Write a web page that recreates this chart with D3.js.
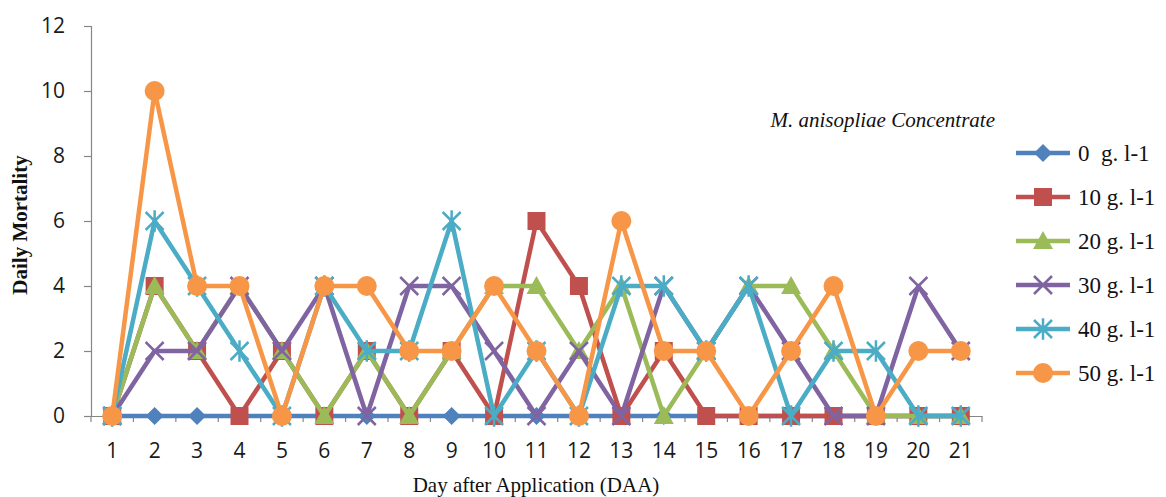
<!DOCTYPE html>
<html>
<head>
<meta charset="utf-8">
<script src="https://cdn.jsdelivr.net/npm/d3@7"></script>
<style>
  html, body { margin: 0; padding: 0; background: #ffffff; }
  svg { display: block; }
</style>
</head>
<body>
<script>
const days = ["1","2","3","4","5","6","7","8","9","10","11","12","13","14","15","16","17","18","19","20","21"];
const yTicks = [0, 2, 4, 6, 8, 10, 12];
const seriesNames = ["0  g. l-1", "10 g. l-1", "20 g. l-1", "30 g. l-1", "40 g. l-1", "50 g. l-1"];
const seriesColors = ["#4F81BD", "#C0504D", "#9BBB59", "#8064A2", "#4BACC6", "#F79646"];
const seriesMarkers = ["diamond", "square", "triangle", "x", "star", "circle"];
const s0  = [0,0,0,0,0,0,0,0,0,0,0,0,0,0,0,0,0,0,0,0,0];
const s10 = [0,4,2,0,2,0,2,0,2,0,6,4,0,2,0,0,0,0,0,0,0];
const s20 = [0,4,2,4,2,0,2,0,2,4,4,2,4,0,2,4,4,2,0,0,0];
const s30 = [0,2,2,4,2,4,0,4,4,2,0,2,0,4,2,4,2,0,0,4,2];
const s40 = [0,6,4,2,0,4,2,2,6,0,2,0,4,4,2,4,0,2,2,0,0];
const s50 = [0,10,4,4,0,4,4,2,2,4,2,0,6,2,2,0,2,4,0,2,2];
const seriesValues = [s0, s10, s20, s30, s40, s50];
const legendTitle = "M. anisopliae Concentrate";
const xTitle = "Day after Application (DAA)";
const yTitle = "Daily Mortality";

(function () {
const W = 1166, H = 497;
const pLeft = 91, pRight = 982, pTop = 26, pBottom = 416;
const axisColor = "#868686";
const sans = "'Open Sans', 'Noto Sans', sans-serif";
const serif = "'Liberation Serif', 'Times New Roman', serif";

const svg = d3.select("body").append("svg").attr("width", W).attr("height", H);

const x = d3.scaleBand().domain(days).range([pLeft, pRight]).padding(0);
const y = d3.scaleLinear().domain([0, 12]).range([pBottom, pTop]);

// Y axis
const yAxis = d3.axisLeft(y).tickValues(yTicks).tickSize(7).tickPadding(19).tickFormat(d3.format("d"));
const gy = svg.append("g").attr("transform", `translate(${pLeft},0)`).call(yAxis);
gy.select(".domain").attr("stroke", axisColor).attr("stroke-width", 1.2);
gy.selectAll(".tick line").attr("stroke", axisColor).attr("stroke-width", 1.2);
gy.selectAll(".tick text").attr("font-family", sans).attr("font-size", 21).attr("fill", "#1a1a1a");

// X axis
const xAxis = d3.axisBottom(x).tickSize(0).tickPadding(27);
const gx = svg.append("g").attr("transform", `translate(0,${pBottom})`).call(xAxis);
gx.select(".domain").attr("stroke", axisColor).attr("stroke-width", 1.2);
gx.selectAll(".tick text").attr("font-family", sans).attr("font-size", 21).attr("fill", "#1a1a1a");
// category boundary ticks
const bounds = days.map(d => x(d)).concat([x(days[days.length - 1]) + x.bandwidth()]);
svg.append("g").selectAll("line").data(bounds).join("line")
  .attr("x1", d => d).attr("x2", d => d)
  .attr("y1", pBottom).attr("y2", pBottom + 6)
  .attr("stroke", axisColor).attr("stroke-width", 1.2);

const cx = d => x(d) + x.bandwidth() / 2;

function drawMarker(g, type, color, px, py) {
  if (type === "diamond") {
    const r = 9;
    g.append("path").attr("d", `M${px},${py - r}L${px + r},${py}L${px},${py + r}L${px - r},${py}Z`).attr("fill", color);
  } else if (type === "square") {
    const s = 18;
    g.append("rect").attr("x", px - s / 2).attr("y", py - s / 2).attr("width", s).attr("height", s).attr("fill", color);
  } else if (type === "triangle") {
    const s = 10;
    g.append("path").attr("d", `M${px},${py - s}L${px + s},${py + s * 0.8}L${px - s},${py + s * 0.8}Z`).attr("fill", color);
  } else if (type === "circle") {
    g.append("circle").attr("cx", px).attr("cy", py).attr("r", 10).attr("fill", color);
  } else if (type === "x") {
    const r = 9;
    g.append("path").attr("d", `M${px - r},${py - r}L${px + r},${py + r}M${px - r},${py + r}L${px + r},${py - r}`)
      .attr("stroke", color).attr("stroke-width", 2.5).attr("fill", "none");
  } else if (type === "star") {
    const r = 9;
    g.append("path").attr("d", `M${px - r},${py - r}L${px + r},${py + r}M${px - r},${py + r}L${px + r},${py - r}M${px},${py - r * 1.2}L${px},${py + r * 1.2}`)
      .attr("stroke", color).attr("stroke-width", 2.5).attr("fill", "none");
  }
}

const line = d3.line().x((d, i) => cx(days[i])).y(d => y(d));

seriesValues.forEach((vals, si) => {
  const g = svg.append("g");
  g.append("path").datum(vals).attr("d", line).attr("fill", "none")
    .attr("stroke", seriesColors[si]).attr("stroke-width", 4.5).attr("stroke-linejoin", "round");
  vals.forEach((v, i) => drawMarker(g, seriesMarkers[si], seriesColors[si], cx(days[i]), y(v)));
});

// Legend
const legY0 = 153, legStep = 44;
const lg = svg.append("g");
seriesNames.forEach((name, i) => {
  const ly = legY0 + i * legStep;
  lg.append("line").attr("x1", 1016).attr("x2", 1070).attr("y1", ly).attr("y2", ly)
    .attr("stroke", seriesColors[i]).attr("stroke-width", 4.5);
  drawMarker(lg, seriesMarkers[i], seriesColors[i], 1043, ly);
  lg.append("text").attr("x", 1078).attr("y", ly + 8).text(name)
    .style("white-space", "pre")
    .attr("font-family", serif).attr("font-size", 23).attr("fill", "#111");
});
svg.append("text").attr("x", 995).attr("y", 127).attr("text-anchor", "end").text(legendTitle)
  .attr("font-family", serif).attr("font-style", "italic")
  .attr("font-size", 21).attr("fill", "#111");

// Axis titles
svg.append("text").attr("x", 536).attr("y", 492).attr("text-anchor", "middle").text(xTitle)
  .attr("font-family", serif).attr("font-size", 21).attr("fill", "#111");
svg.append("text").attr("transform", `translate(27,225) rotate(-90)`).attr("text-anchor", "middle").text(yTitle)
  .attr("font-family", serif).attr("font-weight", "bold")
  .attr("font-size", 21).attr("fill", "#111");
})();
</script>
</body>
</html>
